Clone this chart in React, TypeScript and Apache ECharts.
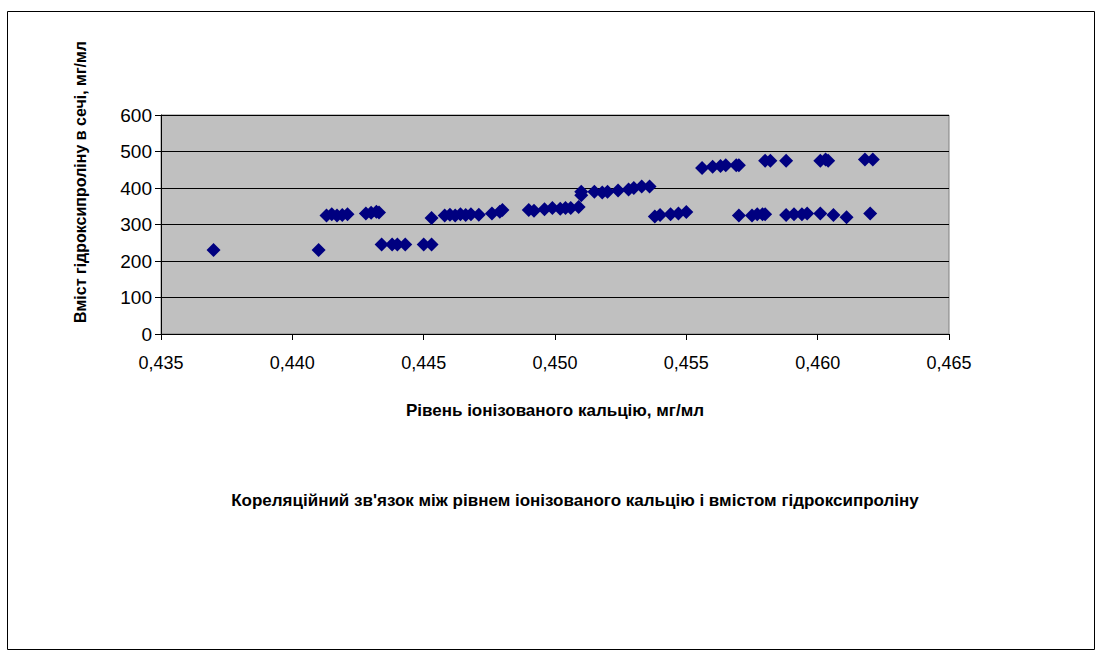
import React, { useEffect, useRef } from "react";
import * as echarts from "echarts";

// Рівень іонізованого кальцію, мг/мл
const calcium: number[] = [
  0.437, 0.441,
  0.4413, 0.4415, 0.4417, 0.4419, 0.4421, 0.4428, 0.443, 0.4432, 0.4433,
  0.4434, 0.4438, 0.444, 0.4443, 0.445, 0.4453, 0.4453,
  0.4458, 0.446, 0.4462, 0.4464, 0.4466, 0.4468, 0.4471, 0.4476, 0.4479, 0.448,
  0.449, 0.4492, 0.4496, 0.4499, 0.4502, 0.4504, 0.4506, 0.4509,
  0.451, 0.451, 0.4515, 0.4518, 0.452, 0.4524, 0.4528, 0.453, 0.4533, 0.4536,
  0.4538, 0.454, 0.4544, 0.4547, 0.455,
  0.4556, 0.456, 0.4563, 0.4565, 0.4569, 0.457,
  0.458, 0.4582, 0.4588, 0.4601, 0.4603, 0.4604, 0.4618, 0.4621,
  0.457, 0.4575, 0.4577, 0.4579, 0.458, 0.4588, 0.4591, 0.4594, 0.4596, 0.4601,
  0.4606, 0.4611, 0.462,
];

// Вміст гідроксипроліну в сечі, мг/мл
const hydroxyproline: number[] = [
  230, 230,
  325, 328, 325, 326, 328, 330, 332, 335, 333,
  245, 245, 245, 245, 245, 245, 318,
  325, 327, 325, 328, 326, 328, 327, 330, 335, 340,
  340, 338, 342, 345, 343, 345, 345, 348,
  380, 390, 390, 388, 390, 393, 396, 400, 404, 404,
  322, 326, 328, 330, 334,
  455, 458, 460, 462, 462, 462,
  475, 475, 475, 475, 478, 475, 478, 478,
  325, 325, 328, 328, 328, 326, 328, 328, 330, 330,
  326, 320, 330,
];

const xTitle = "Рівень іонізованого кальцію, мг/мл";
const yTitle = "Вміст гідроксипроліну в сечі, мг/мл";
const chartTitle =
  "Кореляційний зв'язок між рівнем іонізованого кальцію і вмістом гідроксипроліну";

export default function App() {
  const ref = useRef<HTMLDivElement>(null);
  useEffect(() => {
    document.body.style.margin = "0";
    if (!ref.current) return;
    const chart = echarts.init(ref.current, undefined, { renderer: "svg" });
    const points = calcium.map((x, i) => [x, hydroxyproline[i]]);
    const font = "Arial, 'Liberation Sans', sans-serif";
    chart.setOption({
      animation: false,
      backgroundColor: "#ffffff",
      grid: {
        left: 161,
        top: 115,
        right: 155,
        bottom: 319,
        show: true,
        backgroundColor: "#C0C0C0",
        borderColor: "#808080",
        borderWidth: 1,
      },
      xAxis: {
        type: "value",
        min: 0.435,
        max: 0.465,
        interval: 0.005,
        axisLine: { show: true, onZero: false, lineStyle: { color: "#000", width: 1 } },
        axisTick: { show: true, length: 6, lineStyle: { color: "#000" } },
        splitLine: { show: false },
        axisLabel: {
          margin: 20,
          fontSize: 18,
          fontFamily: font,
          color: "#000",
          formatter: (v: number) => v.toFixed(3).replace(".", ","),
        },
      },
      yAxis: {
        type: "value",
        min: 0,
        max: 600,
        interval: 100,
        axisLine: { show: true, lineStyle: { color: "#000", width: 1 } },
        axisTick: { show: true, length: 6, lineStyle: { color: "#000" } },
        splitLine: { show: true, lineStyle: { color: "#000", width: 1 } },
        axisLabel: {
          margin: 9,
          fontSize: 19,
          fontFamily: font,
          color: "#000",
        },
      },
      series: [
        {
          type: "scatter",
          data: points,
          symbol: "diamond",
          symbolSize: 14,
          itemStyle: { color: "#000080", opacity: 1 },
        },
      ],
      graphic: [
        {
          type: "rect",
          shape: { x: 7.5, y: 11.5, width: 1087, height: 638 },
          style: { fill: "none", stroke: "#000", lineWidth: 1 },
          silent: true,
        },
        {
          type: "text",
          x: 555,
          y: 410,
          style: {
            text: xTitle,
            fontSize: 17,
            fontWeight: "bold",
            fontFamily: font,
            fill: "#000",
            align: "center",
            verticalAlign: "middle",
          },
        },
        {
          type: "text",
          x: 80,
          y: 182,
          rotation: Math.PI / 2,
          style: {
            text: yTitle,
            fontSize: 16,
            fontWeight: "bold",
            fontFamily: font,
            fill: "#000",
            align: "center",
            verticalAlign: "middle",
          },
        },
        {
          type: "text",
          x: 575,
          y: 500,
          style: {
            text: chartTitle,
            fontSize: 17,
            fontWeight: "bold",
            fontFamily: font,
            fill: "#000",
            align: "center",
            verticalAlign: "middle",
          },
        },
      ],
    });
    return () => chart.dispose();
  }, []);
  return <div ref={ref} style={{ width: 1104, height: 653 }} />;
}
